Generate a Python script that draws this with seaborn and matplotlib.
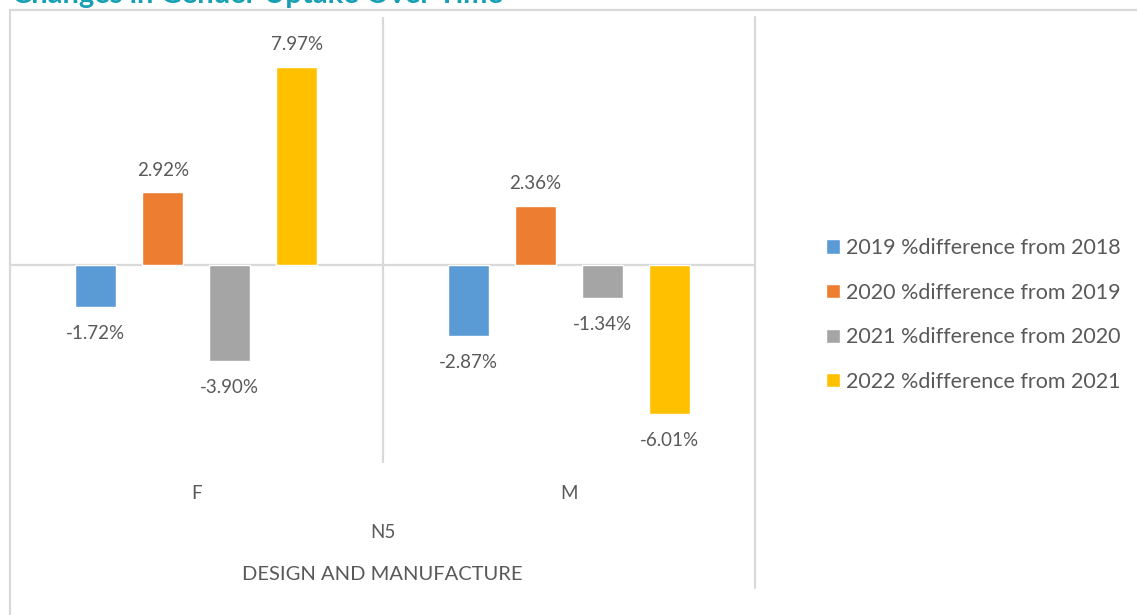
import pandas as pd
import matplotlib.pyplot as plt
import seaborn as sns
from matplotlib.patches import Rectangle

# ==========================================
# DATA
# ==========================================
categories = ["F", "M"]
series_names = [
    "2019 %difference from 2018",
    "2020 %difference from 2019",
    "2021 %difference from 2020",
    "2022 %difference from 2021",
]
diff_2019 = [-1.72, -2.87]
diff_2020 = [2.92, 2.36]
diff_2021 = [-3.90, -1.34]
diff_2022 = [7.97, -6.01]
bar_colors = ["#5B9BD5", "#ED7D31", "#A5A5A5", "#FFC000"]

group_label = "N5"
outer_label = "DESIGN AND MANUFACTURE"
title_text = "Changes in Gender Uptake Over Time"

rows = []
for name, vals in zip(series_names, [diff_2019, diff_2020, diff_2021, diff_2022]):
    for cat, v in zip(categories, vals):
        rows.append({"Gender": cat, "Series": name, "Change": v})
df = pd.DataFrame(rows)

# ==========================================
# PLOT
# ==========================================
sns.set_style("white")
plt.rcParams['font.family'] = ['Lato', 'DejaVu Sans']
text_grey = "#595959"
line_grey = "#D9D9D9"

W, H = 1137, 615
fig = plt.figure(figsize=(W / 100, H / 100), dpi=100)
ax = fig.add_axes([10 / W, (H - 463) / H, 745 / W, 446 / H])

sns.barplot(data=df, x="Gender", y="Change", hue="Series", hue_order=series_names,
            order=categories, palette=bar_colors, saturation=1,
            width=0.72, gap=0.39, ax=ax, zorder=3)

ax.set_ylim(-8, 10)
ax.set_xlim(-0.5, 1.5)
for s in ax.spines.values():
    s.set_visible(False)
ax.set_yticks([])
ax.set_xlabel("")
ax.set_ylabel("")
ax.tick_params(axis="x", length=0, pad=16, labelsize=13.5, labelcolor=text_grey)

# zero line and category dividers
ax.axhline(0, color=line_grey, lw=1.6, zorder=1)
ax.axvline(0.5, color=line_grey, lw=1.6, zorder=1)
ax.axvline(1.5, ymin=(463 - 588) / 446, ymax=1, color=line_grey, lw=1.6,
           clip_on=False, zorder=1)

# data labels
for cont in ax.containers:
    for bar in cont:
        v = bar.get_height() if bar.get_y() >= 0 else bar.get_y()
        if v >= 0:
            ax.annotate(f"{v:.2f}%", (bar.get_x() + bar.get_width() / 2, v),
                        xytext=(0, 10), textcoords="offset points",
                        ha="center", va="bottom", fontsize=13.5, color=text_grey)
        else:
            ax.annotate(f"{v:.2f}%", (bar.get_x() + bar.get_width() / 2, v),
                        xytext=(0, -13), textcoords="offset points",
                        ha="center", va="top", fontsize=13.5, color=text_grey)

# multi-level category labels
ax.text(0.5, (463 - 533) / 446, group_label, transform=ax.transAxes,
        ha="center", va="center", fontsize=13.5, color=text_grey)
ax.text(0.5, (463 - 575) / 446, outer_label, transform=ax.transAxes,
        ha="center", va="center", fontsize=14.5, color=text_grey)

# legend
handles, labels = ax.get_legend_handles_labels()
ax.legend(handles, labels, loc="center left",
          bbox_to_anchor=(826 / W, 1 - 315 / H), bbox_transform=fig.transFigure,
          frameon=False, fontsize=15.5, labelcolor=text_grey,
          handlelength=0.65, handleheight=0.65, handletextpad=0.28,
          labelspacing=1.14, borderpad=0, borderaxespad=0)

# chart border (cropped at right and bottom)
fig.add_artist(Rectangle((9.5 / W, -0.1), 1.2, (H - 9.5) / H + 0.1,
                         transform=fig.transFigure, fill=False,
                         ec=line_grey, lw=1.6))

# title, mostly cut off at the top edge
fig.text(12 / W, (H - 3) / H, title_text, ha="left", va="baseline",
         fontsize=21, fontweight="bold", color="#17A0B4")

fig.savefig("out.png", dpi=100)
